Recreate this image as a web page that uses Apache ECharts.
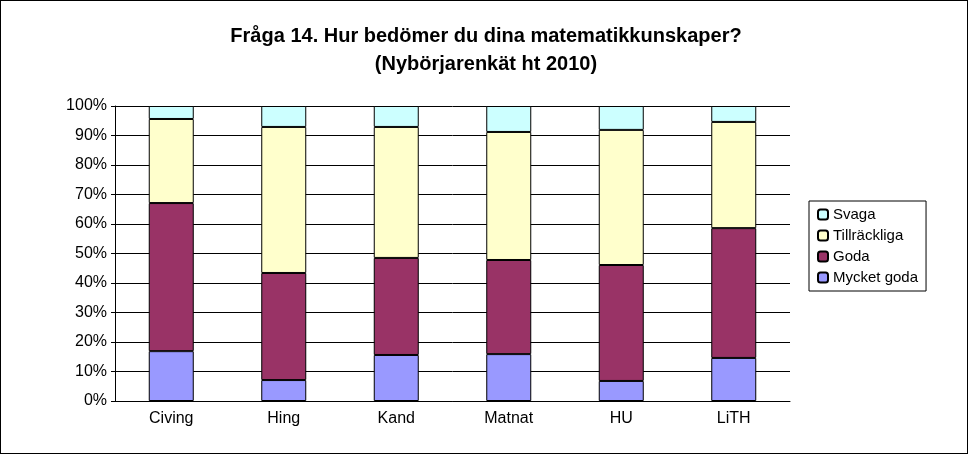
<!DOCTYPE html>
<html><head><meta charset="utf-8">
<script src="https://cdn.jsdelivr.net/npm/echarts@6/dist/echarts.min.js"></script>
<style>html,body{margin:0;padding:0;background:#fff}#c{width:968px;height:454px;box-sizing:border-box;border:1px solid #000}</style>
</head><body><div id="c"></div>
<script>
const categories = ['Civing','Hing','Kand','Matnat','HU','LiTH'];
const mycketGoda = [16.9, 7.1, 15.6, 15.9, 6.8, 14.6];
const goda = [50.2, 36.3, 32.9, 31.9, 39.3, 44.0];
const tillrackliga = [28.5, 49.5, 44.4, 43.4, 45.8, 36.0];
const svaga = [4.4, 7.1, 7.1, 8.8, 8.1, 5.4];
const yTicks = [0,10,20,30,40,50,60,70,80,90,100];

const chart = echarts.init(document.getElementById('c'));
const font = 'Liberation Sans, Arial, sans-serif';
function s(name, data, color){
  return {name, type:'bar', stack:'a', data, barWidth:'40%',
    itemStyle:{color, borderColor:'#000', borderWidth:1}};
}
chart.setOption({
  animation:false,
  textStyle:{fontFamily:font},
  title:{text:'Fråga 14. Hur bedömer du dina matematikkunskaper?\n(Nybörjarenkät ht 2010)',
    left:480, top:16, textAlign:'center',
    textStyle:{fontSize:20, fontWeight:'bold', color:'#000', lineHeight:28, fontFamily:font}},
  grid:{left:114, top:105, width:675, height:295},
  legend:{orient:'vertical', left:808, top:200, itemWidth:10, itemHeight:10, itemGap:6,
    padding:[6,8,6,8], borderColor:'#000', borderWidth:1,
    data:['Svaga','Tillräckliga','Goda','Mycket goda'],
    textStyle:{fontSize:15, color:'#000', fontFamily:font}},
  xAxis:{type:'category', data:categories,
    axisLine:{lineStyle:{color:'#000'}}, axisTick:{show:false},
    axisLabel:{fontSize:16, color:'#000', margin:10}},
  yAxis:{type:'value', min:0, max:100, interval:10,
    axisLine:{show:true, lineStyle:{color:'#000'}}, axisTick:{show:true, length:4, inside:false, lineStyle:{color:'#000'}},
    splitLine:{lineStyle:{color:'#000'}},
    axisLabel:{fontSize:16, color:'#000', formatter: v => yTicks.includes(v) ? v + '%' : ''}},
  series:[
    s('Mycket goda', mycketGoda, '#9999FF'),
    s('Goda', goda, '#993366'),
    s('Tillräckliga', tillrackliga, '#FFFFCC'),
    s('Svaga', svaga, '#CCFFFF')
  ]
});
</script></body></html>
